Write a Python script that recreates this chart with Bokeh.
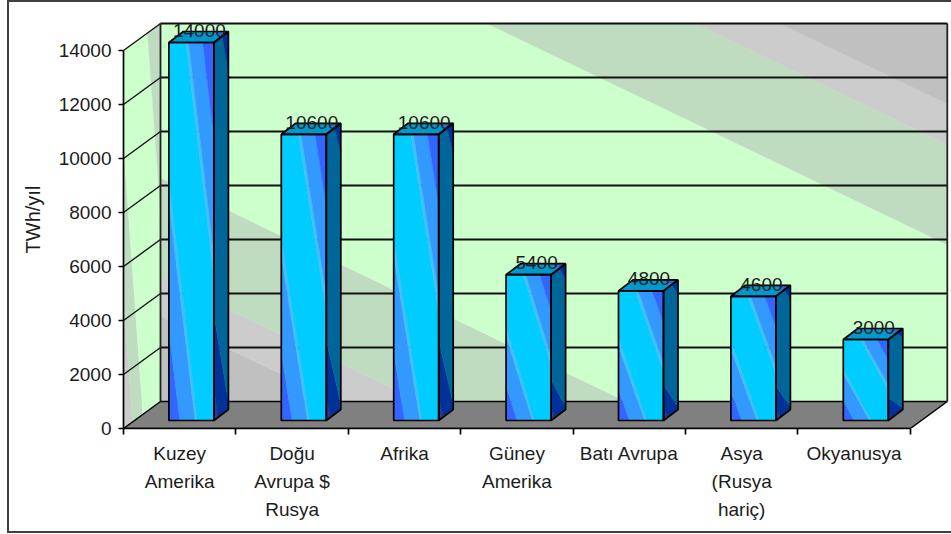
from bokeh.embed import file_html
from bokeh.models import ColumnDataSource, FixedTicker, InlineStyleSheet
from bokeh.plotting import figure
from bokeh.resources import INLINE

# Chart data
categories = ["Kuzey\nAmerika", "Doğu\nAvrupa $\nRusya", "Afrika", "Güney\nAmerika",
              "Batı Avrupa", "Asya\n(Rusya\nhariç)", "Okyanusya"]
values = [14000, 10600, 10600, 5400, 4800, 4600, 3000]
y_ticks = [0, 2000, 4000, 6000, 8000, 10000, 12000, 14000]

FONT = "Liberation Sans"
INK = "#1c1c1c"

# Scale of the plot: pixels per category and per TWh
PX_PER_CAT = 112.4
PX_PER_UNIT = 0.027
FRAME_W, FRAME_H = 828, 418

# Depth of the box the chart stands in, and of each column
WALL_DX = 37 / PX_PER_CAT
WALL_DY = 27 / PX_PER_UNIT
BAR_X0 = 11.7 / PX_PER_CAT
BAR_Y0 = 8 / PX_PER_UNIT
BAR_W = 45 / PX_PER_CAT
BAR_DX = 14.5 / PX_PER_CAT
BAR_DY = 11 / PX_PER_UNIT
N = len(categories)
Y_TOP = y_ticks[-1]

# Diagonal colour steps: (start of band, colour) along t = k*u + v on a unit square
BACK_BANDS = [(-1, "#c0c0c0"), (0.226, "#cccccc"), (0.330, "#c0dcc0"), (0.592, "#ccffcc"),
              (1.415, "#c0dcc0"), (1.680, "#cccccc"), (1.787, "#c0c0c0")]
SIDE_BANDS = [(-1, "#cccccc"), (0.35, "#c0dcc0"), (0.75, "#ccffcc"), (1.93, "#c0dcc0"), (2.30, "#cccccc")]
FRONT_BANDS = [(-1, "#3366ff"), (0.24, "#3399ff"), (0.58, "#40c0ff"), (0.64, "#00ccff"),
               (1.38, "#40c0ff"), (1.44, "#3399ff"), (1.75, "#3366ff")]
FLANK_BANDS = [(-1, "#333399"), (0.08, "#003399"), (0.28, "#006699"), (1.15, "#003399")]
CAP_BANDS = [(-1, "#0077cc"), (0.25, "#0099cc"), (1.60, "#3366cc")]


def clip(poly, t_limit, k, keep_above):
    """Cut a convex (u, v) polygon along the line k*u + v = t_limit."""
    out = []
    for i, (u0, v0) in enumerate(poly):
        u1, v1 = poly[(i + 1) % len(poly)]
        d0 = k * u0 + v0 - t_limit
        d1 = k * u1 + v1 - t_limit
        if not keep_above:
            d0, d1 = -d0, -d1
        if d0 >= 0:
            out.append((u0, v0))
        if d0 * d1 < 0:
            f = d0 / (d0 - d1)
            out.append((u0 + f * (u1 - u0), v0 + f * (v1 - v0)))
    return out


def band_cells(bands, k):
    """Split the unit square into one polygon per colour band."""
    cells = []
    for i, (start, color) in enumerate(bands):
        poly = [(0, 0), (1, 0), (1, 1), (0, 1)]
        poly = clip(poly, start, k, True)
        if i + 1 < len(bands) and poly:
            poly = clip(poly, bands[i + 1][0], k, False)
        if len(poly) > 2:
            cells.append((poly, color))
    return cells


shade_xs, shade_ys, shade_cs = [], [], []


def add_face(bands, k, origin, across, up):
    """Paint a banded parallelogram given its corner and two edge vectors."""
    for poly, color in band_cells(bands, k):
        shade_xs.append([origin[0] + u * across[0] + v * up[0] for u, v in poly])
        shade_ys.append([origin[1] + u * across[1] + v * up[1] for u, v in poly])
        shade_cs.append(color)


p = figure(width=951, height=534, output_backend="svg", toolbar_location=None,
           x_range=(0, FRAME_W / PX_PER_CAT), y_range=(0, FRAME_H / PX_PER_UNIT),
           min_border_left=123, min_border_right=0, min_border_top=10, min_border_bottom=106,
           background_fill_color="white", border_fill_color="white", outline_line_color=None)
p.grid.visible = False

# Frame round the whole chart, open at the right-hand page edge
p.stylesheets = [InlineStyleSheet(css="""
:host { position: relative; }
:host::after {
  content: ""; position: absolute; z-index: 5; pointer-events: none;
  left: 7px; top: 0; right: 0; bottom: 1px;
  border: 2.5px solid #404040; border-right: none;
}
""")]

# Back wall, side wall
add_face(BACK_BANDS, 1.0, (WALL_DX, WALL_DY), (N, 0), (0, Y_TOP))
add_face(SIDE_BANDS, 1.43, (0, 0), (WALL_DX, WALL_DY), (0, Y_TOP))
p.patches(shade_xs, shade_ys, fill_color=shade_cs, line_color=shade_cs, line_width=0.4)

# Floor
p.patch([0, N, N + WALL_DX, WALL_DX], [0, 0, WALL_DY, WALL_DY],
        fill_color="#808080", line_color="black", line_width=1.5)

# Grid lines across both walls
grid = [t for t in y_ticks if t > 0]
p.segment([WALL_DX] * len(grid), [t + WALL_DY for t in grid],
          [N + WALL_DX] * len(grid), [t + WALL_DY for t in grid],
          line_color="#111111", line_width=1.8)
p.segment([0] * len(grid), grid, [WALL_DX] * len(grid), [t + WALL_DY for t in grid],
          line_color="#111111", line_width=1.4)
p.segment([WALL_DX, N + WALL_DX], [WALL_DY, WALL_DY],
          [WALL_DX, N + WALL_DX], [Y_TOP + WALL_DY, Y_TOP + WALL_DY],
          line_color="#222222", line_width=1.8)

# Columns
shade_xs, shade_ys, shade_cs = [], [], []
outlines_x, outlines_y = [], []
for i, v in enumerate(values):
    x0 = i + 0.5 + BAR_X0 - BAR_W / 2
    y0 = BAR_Y0
    x1 = x0 + BAR_W
    add_face(FRONT_BANDS, 1.0, (x0, y0), (BAR_W, 0), (0, v))
    add_face(FLANK_BANDS, 0.26, (x1, y0), (BAR_DX, BAR_DY), (0, v))
    add_face(CAP_BANDS, 1.0, (x0, y0 + v), (BAR_W, 0), (BAR_DX, BAR_DY))
    outlines_x += [[x0, x1, x1, x0],
                   [x1, x1 + BAR_DX, x1 + BAR_DX, x1],
                   [x0, x1, x1 + BAR_DX, x0 + BAR_DX]]
    outlines_y += [[y0, y0, y0 + v, y0 + v],
                   [y0, y0 + BAR_DY, y0 + BAR_DY + v, y0 + v],
                   [y0 + v, y0 + v, y0 + v + BAR_DY, y0 + v + BAR_DY]]
p.patches(shade_xs, shade_ys, fill_color=shade_cs, line_color=shade_cs, line_width=0.4)
p.patches(outlines_x, outlines_y, fill_color=None, line_color="black", line_width=1.7)

# Value labels sitting on the column tops
labels = ColumnDataSource(dict(
    x=[i + 0.5 + BAR_X0 + BAR_DX * 0.55 for i in range(N)],
    y=[BAR_Y0 + BAR_DY + v for v in values],
    t=[str(v) for v in values],
))
p.text("x", "y", text="t", source=labels, text_align="center", text_baseline="middle",
       y_offset=-1, text_font_size="19px", text_color=INK, text_font={"value": FONT})

# Axes
ya = p.yaxis[0]
ya.ticker = FixedTicker(ticks=y_ticks)
ya.bounds = (0, Y_TOP)
ya.axis_label = "TWh/yıl"
ya.axis_label_text_font = FONT
ya.axis_label_text_font_style = "normal"
ya.axis_label_text_font_size = "20px"
ya.axis_label_text_color = INK
ya.axis_label_standoff = 12
ya.major_label_text_font = FONT
ya.major_label_text_font_size = "19px"
ya.major_label_text_color = INK
ya.major_label_standoff = 7
ya.major_tick_in = 0
ya.major_tick_out = 5
ya.minor_tick_line_color = None
ya.axis_line_color = "black"
ya.axis_line_width = 1.7
ya.major_tick_line_color = "black"
ya.major_tick_line_width = 1.7

xa = p.xaxis[0]
centres = [i + 0.5 for i in range(N)]
xa.ticker = FixedTicker(ticks=centres, minor_ticks=list(range(N + 1)))
xa.major_label_overrides = dict(zip(centres, categories))
xa.bounds = (0, N)
xa.major_label_text_font = FONT
xa.major_label_text_font_size = "19px"
xa.major_label_text_color = INK
xa.major_label_text_line_height = 1.35
xa.major_label_standoff = 8
xa.major_tick_line_color = None
xa.major_tick_in = 0
xa.major_tick_out = 6
xa.minor_tick_in = 0
xa.minor_tick_out = 6
xa.minor_tick_line_color = "black"
xa.minor_tick_line_width = 1.7
xa.axis_line_color = "black"
xa.axis_line_width = 1.7

open("out.html", "w").write(file_html(p, INLINE))
